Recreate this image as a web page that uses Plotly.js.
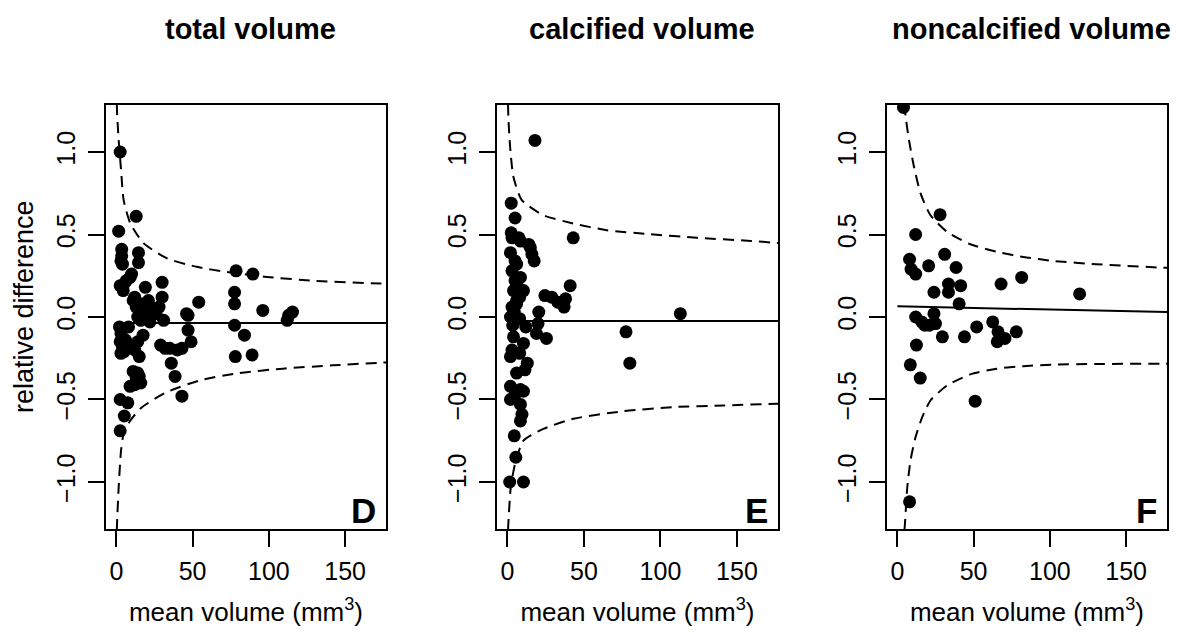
<!DOCTYPE html>
<html>
<head>
<meta charset="utf-8">
<script src="https://cdn.plot.ly/plotly-3.0.1.min.js"></script>
<style>html,body{margin:0;padding:0;background:#fff;}#chart{width:1182px;height:634px;}</style>
</head>
<body>
<div id="chart"></div>
<script>
// ---------- data ----------
const panelTitles = ["total volume", "calcified volume", "noncalcified volume"];
const panelLetters = ["D", "E", "F"];
const xTickVals = [0, 50, 100, 150];
const yTickVals = [-1.0, -0.5, 0.0, 0.5, 1.0];
const xAxisTitle = "mean volume (mm<sup>3</sup>)";
const yAxisTitle = "relative difference";

// Panel D: total volume
const dX = [2.5, 13, 1.5, 3.5, 3.5, 3, 4, 14.5, 14.5, 10, 9, 2.5, 4.5, 6.5, 5, 19, 30, 30, 54,
  78.5, 89.5, 77.5, 77.5, 96, 115.5, 113,
  11, 13, 15, 17, 19, 21, 14, 16, 20, 24, 22, 12, 18, 26, 28, 31, 46,
  77.5, 84, 78, 89, 112,
  2, 3, 2.5, 4, 5, 3, 6, 7, 8, 17.5, 15, 10, 12, 14,
  29, 32, 35, 40, 43, 49, 47, 47, 36, 38.5, 43,
  11, 13, 15, 9, 12, 16, 14, 2.5, 7.5, 5.2, 2.5];
const dY = [1.00, 0.61, 0.52, 0.41, 0.37, 0.34, 0.32, 0.39, 0.33, 0.26, 0.24, 0.19, 0.16, 0.22, 0.20, 0.18, 0.21, 0.12, 0.09,
  0.28, 0.26, 0.15, 0.08, 0.04, 0.03, 0.01,
  0.10, 0.06, 0.08, 0.03, 0.05, 0.10, 0.00, -0.02, 0.02, 0.05, -0.03, 0.12, 0.08, 0.02, 0.06, -0.02, 0.02,
  -0.05, -0.11, -0.24, -0.23, -0.02,
  -0.06, -0.10, -0.15, -0.18, -0.21, -0.22, -0.14, -0.17, -0.06, -0.11, -0.24, -0.18, -0.20, -0.15,
  -0.17, -0.19, -0.19, -0.20, -0.19, -0.15, -0.08, 0.01, -0.28, -0.36, -0.48,
  -0.33, -0.37, -0.36, -0.42, -0.41, -0.40, -0.34, -0.50, -0.52, -0.60, -0.69];
const dMeanX = [0, 180];
const dMeanY = [-0.036, -0.036];
const dUpperX = [0.3, 0.46, 1.5, 3.07, 4.76, 9.1, 17.8, 33.1, 52.7, 72.3, 98.4, 131, 173.4, 180];
const dUpperY = [1.29, 1.235, 1.073, 0.891, 0.709, 0.569, 0.448, 0.356, 0.304, 0.273, 0.243, 0.219, 0.203, 0.201];
const dLowerX = [0.3, 0.46, 1.5, 3.07, 4.76, 9.1, 16.8, 33.1, 54.8, 80, 109.2, 141.8, 173.4, 180];
const dLowerY = [-1.29, -1.245, -1.033, -0.809, -0.708, -0.628, -0.547, -0.455, -0.384, -0.340, -0.313, -0.293, -0.277, -0.275];

// Panel E: calcified volume
const eX = [18, 2.5, 5, 2.5, 3, 7.5, 8.5, 14, 15, 16, 17.5, 2, 5, 6,
  43, 3, 8.5, 5, 7, 4, 10.5, 6, 3, 8, 6, 4.5,
  41, 24.5, 29, 33, 38, 37, 20.5,
  2, 5, 8, 3.5, 20, 19, 25.5, 12,
  4, 10.5, 2, 13, 6, 3, 8,
  11.5, 2, 8.5, 10.5, 2, 8.5, 5, 9.5, 8.5, 4.5, 5.5, 1.5, 10.5,
  77.5, 80, 113];
const eY = [1.07, 0.69, 0.60, 0.51, 0.48, 0.48, 0.46, 0.44, 0.42, 0.38, 0.34, 0.39, 0.34, 0.32,
  0.48, 0.28, 0.24, 0.22, 0.18, 0.16, 0.16, 0.10, 0.06, 0.12, 0.08, 0.03,
  0.19, 0.13, 0.12, 0.09, 0.11, 0.06, 0.03,
  0.00, -0.02, -0.01, -0.05, -0.04, -0.10, -0.13, -0.06,
  -0.12, -0.16, -0.24, -0.28, -0.34, -0.20, -0.22,
  -0.32, -0.42, -0.44, -0.45, -0.50, -0.53, -0.47, -0.59, -0.63, -0.72, -0.85, -1.00, -1.00,
  -0.09, -0.28, 0.02];
const eMeanX = [0, 180];
const eMeanY = [-0.025, -0.025];
const eUpperX = [0.4, 0.65, 1.76, 3.9, 9.4, 23.5, 43.1, 64.9, 93.3, 123.8, 159, 176, 180];
const eUpperY = [1.29, 1.204, 1.032, 0.850, 0.709, 0.617, 0.567, 0.526, 0.502, 0.480, 0.461, 0.449, 0.447];
const eLowerX = [0.4, 0.65, 2.2, 5.0, 10.5, 23.5, 43.1, 75.8, 108.5, 141.2, 176, 180];
const eLowerY = [-1.29, -1.245, -1.032, -0.890, -0.749, -0.678, -0.617, -0.571, -0.546, -0.536, -0.526, -0.525];

// Panel F: noncalcified volume
const fX = [4, 28, 12, 8, 9, 12, 20.5, 31, 38.5, 33.5, 33.5, 41.5, 24, 68, 81.5, 119.5, 40.5, 24,
  12, 16, 21, 25, 18, 29.5, 44, 52, 62.5, 66, 65.5, 70.5, 78, 12.5, 8.5, 15, 51, 8];
const fY = [1.27, 0.62, 0.50, 0.35, 0.29, 0.26, 0.31, 0.38, 0.30, 0.20, 0.15, 0.19, 0.15, 0.20, 0.24, 0.14, 0.08, 0.02,
  0.00, -0.03, -0.05, -0.04, -0.05, -0.12, -0.12, -0.06, -0.03, -0.09, -0.15, -0.13, -0.09, -0.17, -0.29, -0.37, -0.51, -1.12];
const fMeanX = [0, 180];
const fMeanY = [0.065, 0.029];
const fUpperX = [4.5, 5.4, 7.6, 10.9, 15.2, 21.7, 32.6, 47.8, 65.2, 82.6, 102.2, 130.5, 171.8, 180];
const fUpperY = [1.29, 1.215, 1.073, 0.911, 0.749, 0.617, 0.516, 0.441, 0.395, 0.364, 0.340, 0.320, 0.300, 0.298];
const fLowerX = [4.6, 4.8, 6.5, 8.6, 11.9, 16.3, 21.7, 32.6, 47.8, 65.2, 82.6, 102.2, 130.5, 176, 180];
const fLowerY = [-1.29, -1.275, -1.032, -0.870, -0.729, -0.607, -0.506, -0.415, -0.348, -0.313, -0.298, -0.289, -0.285, -0.283, -0.283];

// ---------- build ----------
const FONT = "Liberation Sans, Arial, Helvetica, sans-serif";
const panels = [
  {x: dX, y: dY, mx: dMeanX, my: dMeanY, ux: dUpperX, uy: dUpperY, lx: dLowerX, ly: dLowerY},
  {x: eX, y: eY, mx: eMeanX, my: eMeanY, ux: eUpperX, uy: eUpperY, lx: eLowerX, ly: eLowerY},
  {x: fX, y: fY, mx: fMeanX, my: fMeanY, ux: fUpperX, uy: fUpperY, lx: fLowerX, ly: fLowerY}
];
const W = 1182, H = 634;
const xDomainsPx = [[106, 386], [497, 778], [887, 1167]];
const yDomain = [1 - 529 / H, 1 - 105 / H];

const traces = [];
const layout = {
  width: W, height: H,
  margin: {l: 0, r: 0, t: 0, b: 0},
  paper_bgcolor: "#fff", plot_bgcolor: "#fff",
  showlegend: false,
  font: {family: FONT, color: "#000", size: 25},
  annotations: []
};

panels.forEach((p, i) => {
  const sfx = i === 0 ? "" : String(i + 1);
  const xa = "x" + sfx, ya = "y" + sfx;
  const dashLine = {color: "#000", width: 2, dash: "11px,7px", shape: "spline", smoothing: 0.6};
  traces.push({x: p.ux, y: p.uy, xaxis: xa, yaxis: ya, mode: "lines", line: dashLine, hoverinfo: "skip"});
  traces.push({x: p.lx, y: p.ly, xaxis: xa, yaxis: ya, mode: "lines", line: dashLine, hoverinfo: "skip"});
  traces.push({x: p.mx, y: p.my, xaxis: xa, yaxis: ya, mode: "lines", line: {color: "#000", width: 2}, hoverinfo: "skip"});
  traces.push({x: p.x, y: p.y, xaxis: xa, yaxis: ya, mode: "markers", cliponaxis: true,
    marker: {color: "#000", size: 13, line: {width: 0}}});

  const dom = [xDomainsPx[i][0] / W, xDomainsPx[i][1] / W];
  layout["xaxis" + sfx] = {
    domain: dom, anchor: ya, range: [-6.8, 176.8],
    showline: true, mirror: true, linecolor: "#000", linewidth: 2,
    ticks: "outside", ticklen: 16, tickwidth: 2, tickcolor: "#000",
    tickvals: xTickVals, tickfont: {size: 25, family: FONT}, ticklabelstandoff: 3,
    showgrid: false, zeroline: false, fixedrange: true,
    title: {text: xAxisTitle, font: {size: 26, family: FONT}, standoff: 19}
  };
  layout["yaxis" + sfx] = {
    domain: yDomain, anchor: xa, range: [-1.285, 1.285],
    showline: true, mirror: true, linecolor: "#000", linewidth: 2,
    ticks: "outside", ticklen: 16, tickwidth: 2, tickcolor: "#000",
    tickvals: yTickVals, tickformat: ".1f", tickangle: -90, tickfont: {size: 25, family: FONT},
    ticklabelstandoff: 3,
    showgrid: false, zeroline: false, fixedrange: true
  };
  const cx = (xDomainsPx[i][0] + xDomainsPx[i][1]) / 2 / W;
  layout.annotations.push({text: "<b>" + panelTitles[i] + "</b>", xref: "paper", yref: "paper",
    x: cx + 4 / W, y: 1 - 29 / H, xanchor: "center", yanchor: "middle", showarrow: false,
    font: {size: 29, family: FONT, color: "#000"}});
  layout.annotations.push({text: "<b>" + panelLetters[i] + "</b>", xref: "paper", yref: "paper",
    x: (xDomainsPx[i][1] - 8) / W, y: 1 - 510 / H, xanchor: "right", yanchor: "middle", showarrow: false,
    font: {size: 35, family: FONT, color: "#000"}});
});

layout.annotations.push({text: yAxisTitle, xref: "paper", yref: "paper",
  x: 24 / W, y: 1 - 307 / H, xanchor: "center", yanchor: "middle", textangle: -90, showarrow: false,
  font: {size: 27, family: FONT, color: "#000"}});

Plotly.newPlot("chart", traces, layout, {staticPlot: true, displayModeBar: false});
</script>
</body>
</html>
